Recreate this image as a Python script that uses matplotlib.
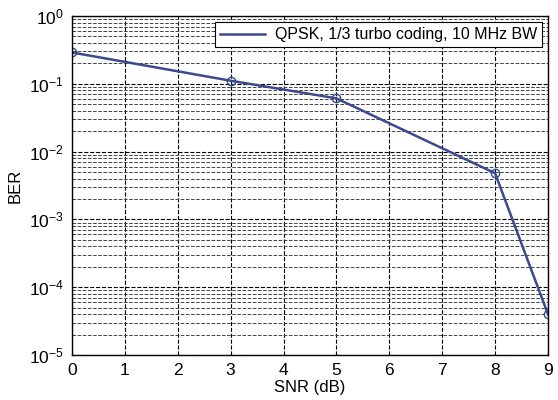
import numpy as np
import matplotlib
matplotlib.use('Agg')
import matplotlib.pyplot as plt
from matplotlib.ticker import LogLocator, FixedLocator
from matplotlib.lines import Line2D

plt.rcParams['font.family'] = ['Liberation Sans', 'DejaVu Sans']
plt.rcParams['mathtext.fontset'] = 'custom'
plt.rcParams['mathtext.rm'] = 'Liberation Sans'

# 数据
snr_db = [0, 3, 5, 8, 9]
ber = [0.29, 0.111, 0.061, 0.0048, 4.0e-5]
series_label = 'QPSK, 1/3 turbo coding, 10 MHz BW'
x_ticks = list(range(0, 10))
line_color = '#3b4a8c'

fig = plt.figure(figsize=(5.58, 4.0), dpi=100)
ax = fig.add_axes([0.129, 0.1125, 0.853, 0.8475])

ax.semilogy(snr_db, ber, '-o', color=line_color, linewidth=1.8,
            markersize=6, markerfacecolor='none', markeredgewidth=1.0)

ax.set_xlim(0, 9)
ax.set_ylim(1e-5, 1e0)
ax.xaxis.set_major_locator(FixedLocator(x_ticks))
ax.yaxis.set_major_locator(LogLocator(base=10, numticks=10))
ax.yaxis.set_minor_locator(LogLocator(base=10, subs=np.arange(2, 10), numticks=20))

ax.grid(which='major', axis='both', color='black', linestyle='--', linewidth=0.8)
ax.grid(which='minor', axis='y', color='#444444', linestyle='--', linewidth=0.7)
ax.tick_params(which='both', direction='in', labelsize=12.5, length=0, pad=6)
for s in ax.spines.values():
    s.set_linewidth(1.0)

ax.set_xlabel('SNR (dB)', fontsize=12, labelpad=1)
ax.set_ylabel('BER', fontsize=12, labelpad=4)

# 图例只显示线条，不显示标记
handle = Line2D([], [], color=line_color, linewidth=1.8)
leg = ax.legend([handle], [series_label], loc='upper right', fontsize=11.5,
                fancybox=False, framealpha=1, edgecolor='black',
                borderpad=0.3, handlelength=2.8, handletextpad=0.6,
                borderaxespad=0.4)
leg.get_frame().set_linewidth(0.8)

plt.savefig('out.png', dpi=100)
